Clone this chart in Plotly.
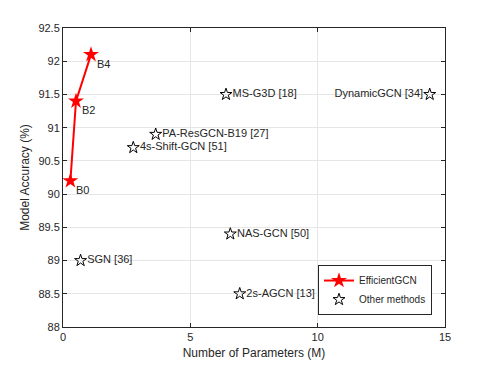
import plotly.graph_objects as go

# EfficientGCN variants
eff_names = ['B0', 'B2', 'B4']
eff_params = [0.29, 0.51, 1.1]
eff_acc = [90.2, 91.4, 92.1]

# other methods
other_names = ['MS-G3D [18]', 'DynamicGCN [34]', 'PA-ResGCN-B19 [27]', '4s-Shift-GCN [51]',
               'NAS-GCN [50]', 'SGN [36]', '2s-AGCN [13]']
other_params = [6.4, 14.4, 3.64, 2.76, 6.57, 0.69, 6.94]
other_acc = [91.5, 91.5, 90.9, 90.7, 89.4, 89.0, 88.5]
other_pos = ['middle right', 'middle left', 'middle right', 'middle right',
             'middle right', 'middle right', 'middle right']

x_ticks = [0, 5, 10, 15]
y_ticks = [88, 88.5, 89, 89.5, 90, 90.5, 91, 91.5, 92, 92.5]

fig = go.Figure()

fig.add_trace(go.Scatter(
    x=eff_params, y=eff_acc, mode='lines+markers', name='EfficientGCN',
    line=dict(color='red', width=2),
    marker=dict(symbol='star', size=12, color='red'),
))

fig.add_trace(go.Scatter(
    x=other_params, y=other_acc, mode='markers+text', name='Other methods',
    marker=dict(symbol='star-open', size=9, color='black', line=dict(width=1)),
    text=other_names, textposition=other_pos,
    textfont=dict(size=11, color='#262626'),
))

# B0/B2/B4 labels sit just below-right of the stars
for name, px, acc in zip(eff_names, eff_params, eff_acc):
    fig.add_annotation(x=px, y=acc, text=name, showarrow=False,
                       xanchor='left', yanchor='middle', xshift=4, yshift=-9,
                       font=dict(size=11, color='#262626'))

axis_style = dict(
    showline=True, linecolor='#262626', linewidth=1, mirror='ticks',
    ticks='inside', ticklen=4, tickcolor='#262626',
    showgrid=True, gridcolor='#e6e6e6', zeroline=False,
    tickfont=dict(size=11, color='#262626'),
    title_font=dict(size=12, color='#262626'),
)

fig.update_layout(
    width=491, height=368,
    margin=dict(l=55, r=54, t=20, b=49),
    plot_bgcolor='white', paper_bgcolor='white',
    font=dict(family='Liberation Sans, Arial, sans-serif'),
    xaxis=dict(axis_style, range=[0, 15], tickvals=x_ticks,
               title=dict(text='Number of Parameters (M)', standoff=6)),
    yaxis=dict(axis_style, range=[88, 92.5], tickvals=y_ticks,
               title=dict(text='Model Accuracy (%)', standoff=6)),
    legend=dict(x=0.966, y=0.04, xanchor='right', yanchor='bottom',
                bgcolor='white', bordercolor='#262626', borderwidth=1,
                font=dict(size=10, color='#262626'),
                tracegroupgap=0, itemsizing='trace', itemwidth=30),
    showlegend=True,
)

fig.write_html('out.html')
